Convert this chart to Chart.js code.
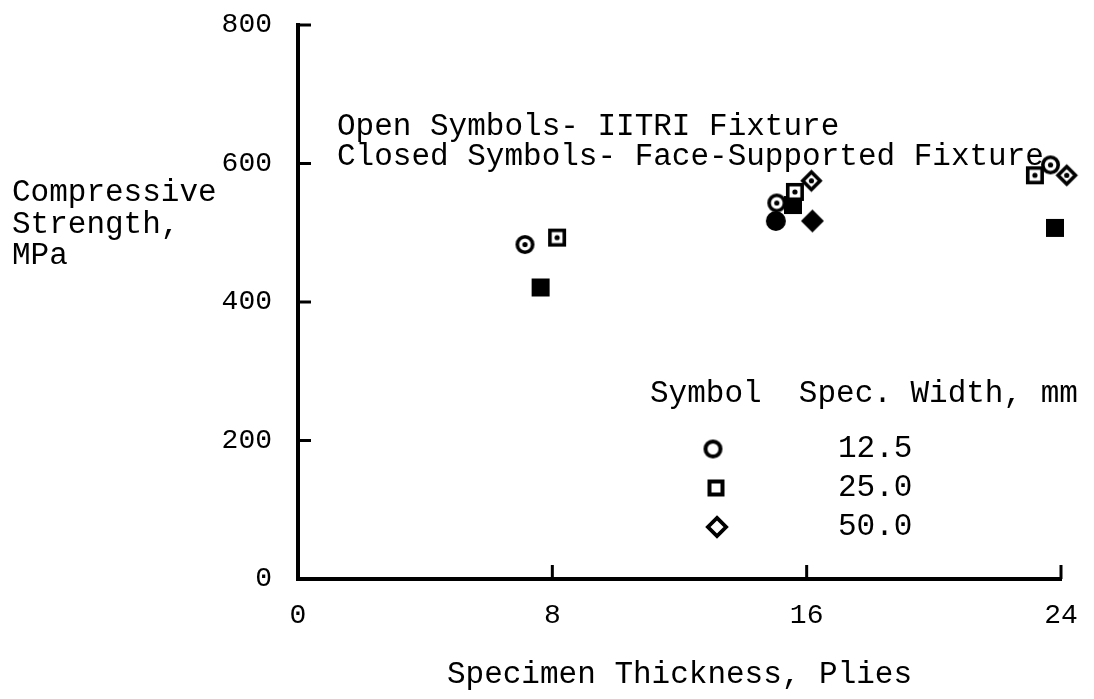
<!DOCTYPE html>
<html>
<head>
<meta charset="utf-8">
<script src="https://cdn.jsdelivr.net/npm/chart.js@4"></script>
<style>
  html, body { margin: 0; padding: 0; background: #fff; }
  #wrap { width: 1094px; height: 699px; }
</style>
</head>
<body>
<div id="wrap"><canvas id="chart" width="1094" height="699"></canvas></div>
<script>
// values (thickness in plies, strength in MPa)
const openCircleX = [7.14, 15.06, 23.67];
const openCircleY = [483, 543, 598];
const openSquareX = [8.15, 15.63, 23.18];
const openSquareY = [493, 559, 583];
const openDiamondX = [16.15, 24.18];
const openDiamondY = [575, 583];
const closedCircleX = [15.03];
const closedCircleY = [517];
const closedSquareX = [7.63, 15.57, 23.81];
const closedSquareY = [421, 540, 507];
const closedDiamondX = [16.18];
const closedDiamondY = [517];

const xTicks = [0, 8, 16, 24];
const yTicks = [0, 200, 400, 600, 800];
const widthLabels = ['12.5', '25.0', '50.0'];

const FONT = '"Liberation Mono", "DejaVu Sans Mono", monospace';

function pts(xs, ys) {
  return xs.map((x, i) => ({ x: x, y: ys[i] }));
}

// build a marker as a small canvas
function marker(shape, filled, dot, size, lw) {
  const c = document.createElement('canvas');
  c.width = c.height = size + 6;
  const g = c.getContext('2d');
  const m = c.width / 2, r = size / 2;
  const ins = filled ? 0 : lw / 2;
  g.beginPath();
  if (shape === 'circle') {
    g.arc(m, m, r - ins, 0, Math.PI * 2);
  } else if (shape === 'square') {
    g.rect(m - r + ins, m - r + ins, size - 2 * ins, size - 2 * ins);
  } else {
    g.moveTo(m, m - r + ins);
    g.lineTo(m + r - ins, m);
    g.lineTo(m, m + r - ins);
    g.lineTo(m - r + ins, m);
    g.closePath();
  }
  if (filled) {
    g.fillStyle = '#000';
    g.fill();
  } else {
    g.fillStyle = '#fff';
    g.fill();
    g.lineWidth = lw;
    g.strokeStyle = '#000';
    g.stroke();
  }
  if (dot) {
    g.beginPath();
    g.arc(m, m, 2.6, 0, Math.PI * 2);
    g.fillStyle = '#000';
    g.fill();
  }
  return c;
}

const mOpenCircle = marker('circle', false, true, 19, 3.6);
const mOpenSquare = marker('square', false, true, 18, 3.6);
const mOpenDiamond = marker('diamond', false, true, 21, 3.6);
const mClosedCircle = marker('circle', true, false, 20, 0);
const mClosedSquare = marker('square', true, false, 18, 0);
const mClosedDiamond = marker('diamond', true, false, 23, 0);
const legendMarkers = [
  marker('circle', false, false, 19, 4),
  marker('square', false, false, 17, 4),
  marker('diamond', false, false, 22, 3.8)
];

function ds(label, xs, ys, img) {
  return {
    label: label,
    data: pts(xs, ys),
    pointStyle: img,
    pointRadius: 10,
    pointHoverRadius: 10,
    clip: false
  };
}

// text, inward ticks and the symbol key
const extras = {
  id: 'extras',
  afterDraw(chart) {
    const ctx = chart.ctx;
    const xs = chart.scales.x, ys = chart.scales.y;
    const area = chart.chartArea;
    ctx.save();
    ctx.strokeStyle = '#000';
    ctx.lineWidth = 3;
    // inward ticks
    yTicks.slice(1).forEach(v => {
      const py = ys.getPixelForValue(v);
      ctx.beginPath();
      ctx.moveTo(area.left, py);
      ctx.lineTo(area.left + 13, py);
      ctx.stroke();
    });
    xTicks.slice(1).forEach(v => {
      const px = xs.getPixelForValue(v);
      ctx.beginPath();
      ctx.moveTo(px, area.bottom);
      ctx.lineTo(px, area.bottom - 14);
      ctx.stroke();
    });

    ctx.fillStyle = '#000';
    ctx.textBaseline = 'middle';
    ctx.textAlign = 'left';
    ctx.font = '31px ' + FONT;
    // y axis title (horizontal)
    ctx.fillText('Compressive', 12, 193);
    ctx.fillText('Strength,', 12, 225);
    ctx.fillText('MPa', 12, 256);
    // fixture notes
    ctx.fillText('Open Symbols- IITRI Fixture', 337, 127);
    ctx.fillText('Closed Symbols- Face-Supported Fixture', 337, 157);
    // symbol key
    ctx.fillText('Symbol  Spec. Width, mm', 650, 394);
    const keyY = [449, 488, 527];
    const keyX = [713, 716, 717];
    legendMarkers.forEach((img, i) => {
      ctx.drawImage(img, keyX[i] - img.width / 2, keyY[i] - img.height / 2);
      ctx.fillText(widthLabels[i], 838, keyY[i]);
    });
    ctx.restore();
  }
};

Chart.defaults.font.family = FONT;
Chart.defaults.color = '#000';

const chart = new Chart(document.getElementById('chart').getContext('2d'), {
  type: 'scatter',
  data: {
    datasets: [
      ds('12.5 IITRI', openCircleX, openCircleY, mOpenCircle),
      ds('25.0 IITRI', openSquareX, openSquareY, mOpenSquare),
      ds('50.0 IITRI', openDiamondX, openDiamondY, mOpenDiamond),
      ds('12.5 face-supported', closedCircleX, closedCircleY, mClosedCircle),
      ds('25.0 face-supported', closedSquareX, closedSquareY, mClosedSquare),
      ds('50.0 face-supported', closedDiamondX, closedDiamondY, mClosedDiamond)
    ]
  },
  options: {
    responsive: false,
    animation: false,
    events: [],
    layout: { padding: { top: 25, right: 33, bottom: 0, left: 0 } },
    plugins: {
      legend: { display: false },
      tooltip: { enabled: false }
    },
    scales: {
      x: {
        type: 'linear',
        min: 0,
        max: 24,
        afterBuildTicks(scale) {
          scale.ticks = xTicks.map(v => ({ value: v }));
        },
        afterFit(scale) {
          scale.height = 120;
          scale.paddingLeft = 0;
          scale.paddingRight = 0;
        },
        grid: { display: false, drawTicks: false },
        border: { display: true, width: 4, color: '#000' },
        ticks: { padding: 20, font: { size: 28 }, maxRotation: 0 },
        title: {
          display: true,
          text: 'Specimen Thickness, Plies',
          font: { size: 31 },
          padding: { top: 0, bottom: 6 }
        }
      },
      y: {
        type: 'linear',
        min: 0,
        max: 800,
        afterBuildTicks(scale) {
          scale.ticks = yTicks.map(v => ({ value: v }));
        },
        afterFit(scale) {
          scale.width = 298;
          scale.paddingTop = 0;
          scale.paddingBottom = 0;
        },
        grid: { display: false, drawTicks: false },
        border: { display: true, width: 4, color: '#000' },
        ticks: { padding: 26, font: { size: 28 } }
      }
    }
  },
  plugins: [extras]
});
</script>
</body>
</html>
